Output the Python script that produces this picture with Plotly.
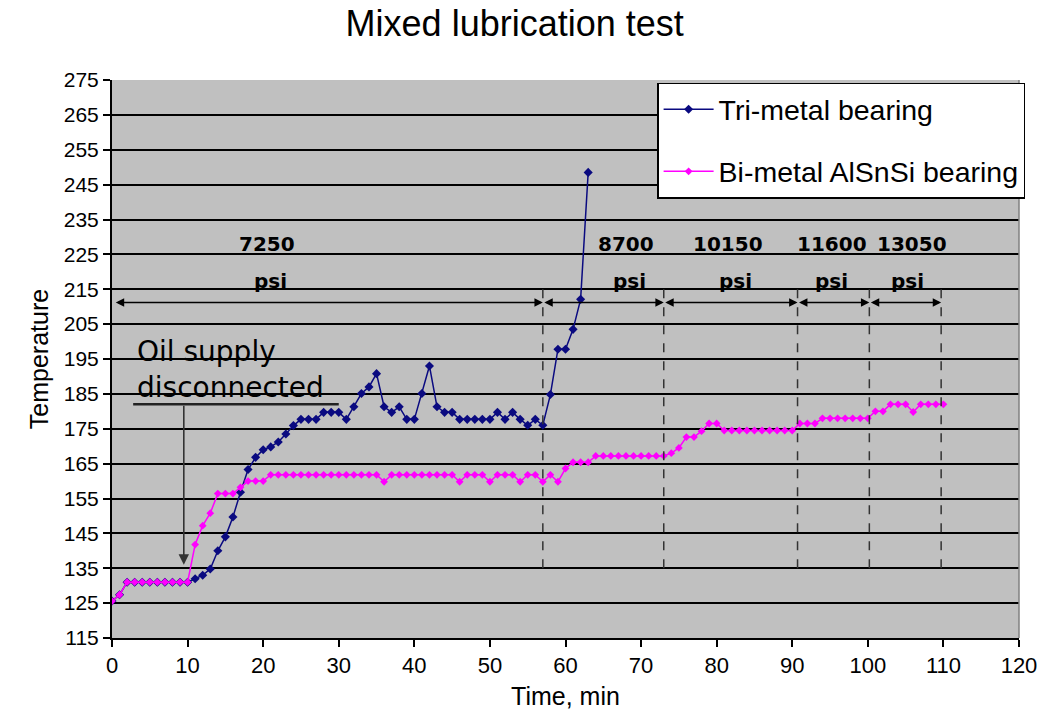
import plotly.graph_objects as go

# ---------------- data ----------------
tri_time = list(range(0, 64))
tri_temp = [125.6, 127.4, 131, 131, 131, 131, 131, 131, 131, 131, 131,
            132, 133, 134.8, 140, 144, 149.7, 156.8, 163.3, 166.8, 169,
            169.8, 171.2, 173.5, 175.9, 177.7, 177.7, 177.7, 179.7, 179.7, 179.7,
            177.7, 181.3, 185.1, 187, 190.8, 181.3, 179.7, 181.3, 177.7, 177.7,
            185.1, 193, 181.3, 179.7, 179.7, 177.7, 177.7, 177.7, 177.7, 177.7,
            179.7, 177.7, 179.7, 177.7, 176, 177.7, 176, 184.8, 197.8, 197.8,
            203.5, 212.1, 248.5]

bi_time = list(range(0, 111))
bi_temp = [125.6, 127.4, 131, 131, 131, 131, 131, 131, 131, 131, 131,
           141.8, 147.2, 150.8, 156.4, 156.4, 156.4, 158.2, 160, 160, 160,
           161.8, 161.8, 161.8, 161.8, 161.8, 161.8, 161.8, 161.8, 161.8, 161.8,
           161.8, 161.8, 161.8, 161.8, 161.8, 159.8, 161.8, 161.8, 161.8, 161.8,
           161.8, 161.8, 161.8, 161.8, 161.8, 159.8, 161.8, 161.8, 161.8, 159.8,
           161.8, 161.8, 161.8, 159.8, 161.8, 161.8, 159.8, 161.8, 159.8, 163.6,
           165.4, 165.4, 165.4, 167.2, 167.2, 167.2, 167.2, 167.2, 167.2, 167.2,
           167.2, 167.2, 167.2, 168, 169.5, 172.6, 172.6, 174.3, 176.5, 176.5,
           174.5, 174.5, 174.5, 174.5, 174.5, 174.5, 174.5, 174.5, 174.5, 174.5,
           176.5, 176.5, 176.5, 178, 178, 178, 178, 178, 178, 178,
           180, 180, 182, 182, 182, 179.8, 182, 182, 182, 182]

# pressure stages
stage_bounds = [0.3, 57, 73, 90.7, 100.2, 109.7]
stage_pressures = ["7250", "8700", "10150", "11600", "13050"]
stage_label_x = [20.5, 68.0, 81.5, 95.2, 105.8]
psi_label_x = [21.0, 68.5, 82.5, 95.2, 105.2]
arrow_level = 211.2
pressure_label_y = 228
psi_label_y = 217.5
dash_top, dash_bottom = 217.2, 135

oil_text_x, oil_text_y = 3.0, 192
oil_line = (2.8, 30, 182)
oil_arrow = (9.5, 182, 136)

x_ticks = list(range(0, 121, 10))
y_ticks = list(range(115, 276, 10))

BASE_FONT = "Liberation Sans, Arial, sans-serif"
ANNOT_FONT = "DejaVu Sans, Verdana, sans-serif"

fig = go.Figure()
fig.add_trace(go.Scatter(
    x=tri_time, y=tri_temp, mode="lines+markers", name="Tri-metal bearing",
    line=dict(color="#0a0a80", width=1.5),
    marker=dict(symbol="diamond", size=7, color="#0a0a80"),
    legendgroup="a"))
fig.add_trace(go.Scatter(
    x=bi_time, y=bi_temp, mode="lines+markers", name="Bi-metal AlSnSi bearing",
    line=dict(color="#ff00ff", width=1.5),
    marker=dict(symbol="diamond", size=6, color="#ff00ff"),
    legendgroup="b"))

shapes = []
annotations = []
# dashed stage boundaries
for b in stage_bounds[1:]:
    shapes.append(dict(type="line", xref="x", yref="y", x0=b, x1=b,
                       y0=dash_bottom, y1=dash_top,
                       line=dict(color="#333333", width=1.5, dash="dash")))
# double-headed arrows & labels
for i, p in enumerate(stage_pressures):
    x0, x1 = stage_bounds[i], stage_bounds[i + 1]
    annotations.append(dict(x=x1, y=arrow_level, ax=x0, ay=arrow_level,
                            xref="x", yref="y", axref="x", ayref="y",
                            text="", showarrow=True, arrowhead=2,
                            arrowside="end+start", arrowsize=1.2,
                            arrowwidth=1.4, arrowcolor="black"))
    annotations.append(dict(x=stage_label_x[i], y=pressure_label_y, xref="x", yref="y",
                            text="<b>" + p + "</b>", showarrow=False,
                            font=dict(family=ANNOT_FONT, size=20, color="black")))
    annotations.append(dict(x=psi_label_x[i], y=psi_label_y, xref="x", yref="y",
                            text="<b>psi</b>", showarrow=False,
                            font=dict(family=ANNOT_FONT, size=20, color="black")))

# oil supply annotation
annotations.append(dict(x=oil_text_x, y=oil_text_y, xref="x", yref="y",
                        text="Oil supply<br>disconnected", showarrow=False,
                        xanchor="left", yanchor="middle", align="left",
                        font=dict(family=ANNOT_FONT, size=28, color="black")))
shapes.append(dict(type="line", xref="x", yref="y", x0=oil_line[0], x1=oil_line[1],
                   y0=oil_line[2], y1=oil_line[2],
                   line=dict(color="#222222", width=2.5)))
annotations.append(dict(x=oil_arrow[0], y=oil_arrow[2], ax=oil_arrow[0], ay=oil_arrow[1],
                        xref="x", yref="y", axref="x", ayref="y", text="",
                        showarrow=True, arrowhead=2, arrowsize=1.3,
                        arrowwidth=1.6, arrowcolor="#333333"))
# right frame of plot area
shapes.append(dict(type="line", xref="paper", yref="paper", x0=1, x1=1, y0=0, y1=1,
                   line=dict(color="#808080", width=1.5)))

fig.update_layout(
    width=1044, height=724,
    paper_bgcolor="white", plot_bgcolor="#c0c0c0",
    margin=dict(l=112, r=25, t=80, b=86),
    font=dict(family=BASE_FONT, color="black"),
    title=dict(text="Mixed lubrication test", x=0.493, xanchor="center",
               y=0.968, yanchor="middle", font=dict(family=BASE_FONT, size=36)),
    showlegend=True,
    legend=dict(x=0.601, y=0.995, xanchor="left", yanchor="top",
                bgcolor="white", bordercolor="black", borderwidth=1.5,
                font=dict(family=BASE_FONT, size=28.5), itemwidth=50,
                tracegroupgap=22, traceorder="grouped"),
    shapes=shapes, annotations=annotations,
)
fig.update_xaxes(range=[0, 120], tickvals=x_ticks, ticktext=[str(v) for v in x_ticks],
                 showgrid=False, zeroline=False, showline=True, linecolor="black",
                 linewidth=2, ticks="outside", ticklen=7, tickwidth=1.5, tickcolor="black",
                 tickfont=dict(size=22), automargin=False,
                 title=dict(text="Time, min", font=dict(size=25), standoff=10))
fig.update_yaxes(range=[115, 275], tickvals=y_ticks, ticktext=[str(v) for v in y_ticks],
                 showgrid=True, gridcolor="black", gridwidth=1.8, zeroline=False,
                 showline=True, linecolor="black", linewidth=2,
                 ticks="outside", ticklen=7, tickwidth=1.5, tickcolor="black",
                 tickfont=dict(size=21),
                 title=dict(text="Temperature", font=dict(size=25), standoff=8))

fig.write_html("out.html", config={"displayModeBar": False},
               post_script="document.body.style.margin='0px';document.body.style.overflow='hidden';")
